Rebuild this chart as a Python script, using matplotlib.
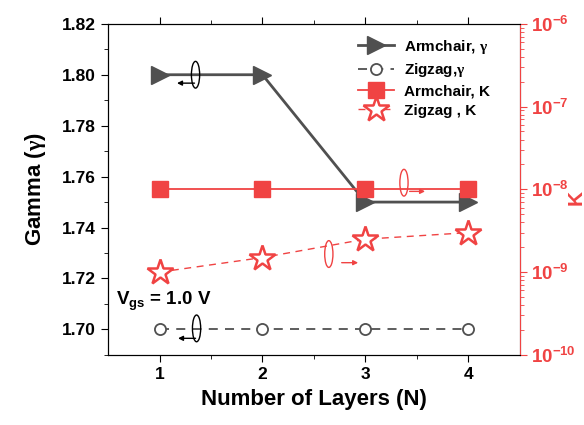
import numpy as np
import matplotlib
matplotlib.use('Agg')
import matplotlib.pyplot as plt
from matplotlib.patches import Ellipse
from matplotlib.ticker import FixedLocator, LogLocator, NullFormatter

plt.rcParams['font.family'] = ['Liberation Sans', 'DejaVu Sans']
plt.rcParams['font.weight'] = 'bold'
plt.rcParams['mathtext.fontset'] = 'custom'
plt.rcParams['mathtext.rm'] = 'Liberation Serif'
plt.rcParams['mathtext.it'] = 'Liberation Serif'
plt.rcParams['mathtext.bf'] = 'Liberation Sans:bold'

# 层数与两种边缘结构的 gamma / K
layers = [1, 2, 3, 4]
gamma_armchair = [1.80, 1.80, 1.75, 1.75]
gamma_zigzag = [1.70, 1.70, 1.70, 1.70]
k_armchair = [1e-8, 1e-8, 1e-8, 1e-8]
k_zigzag = [1.0e-9, 1.5e-9, 2.5e-9, 3.0e-9]

gray = '#505050'
red = '#f04343'

fig = plt.figure(figsize=(5.84, 4.25), dpi=100)
ax = fig.add_axes([0.185, 0.165, 0.705, 0.779])
ax2 = ax.twinx()

l1, = ax.plot(layers, gamma_armchair, color=gray, lw=2, marker='>', ms=13,
              label=r'Armchair, $\gamma$')
l2, = ax.plot(layers, gamma_zigzag, color=gray, lw=1.3, ls=(0, (5, 4)), marker='o',
              ms=8, mfc='white', mec=gray, mew=1.3, label=r'Zigzag,$\gamma$')
l3, = ax2.plot(layers, k_armchair, color=red, lw=1.3, marker='s', ms=12,
               label='Armchair, K')
l4, = ax2.plot(layers, k_zigzag, color=red, lw=1.0, ls=(0, (5, 4)), marker='*',
               ms=19, mfc='white', mec=red, mew=1.8, label='Zigzag , K')

ax.set_xlim(0.5, 4.5)
ax.set_ylim(1.69, 1.82)
ax2.set_yscale('log')
ax2.set_ylim(1e-10, 1e-6)

ax.xaxis.set_major_locator(FixedLocator([1, 2, 3, 4]))
ax.xaxis.set_minor_locator(FixedLocator([1.5, 2.5, 3.5]))
ax.set_yticks(np.arange(1.70, 1.821, 0.02))
ax.yaxis.set_minor_locator(FixedLocator(np.arange(1.69, 1.821, 0.01)))
ax.tick_params(axis='both', which='both', labelsize=12.5, direction='out')
ax.tick_params(axis='x', which='both', top=True)
ax.tick_params(which='major', length=5)
ax.tick_params(which='minor', length=3)
ax.set_xticklabels(['1', '2', '3', '4'], fontweight='bold')
ax.set_yticklabels(['%.2f' % v for v in np.arange(1.70, 1.821, 0.02)], fontweight='bold')

ax2.yaxis.set_minor_locator(LogLocator(base=10, subs=np.arange(2, 10), numticks=20))
ax2.yaxis.set_minor_formatter(NullFormatter())
ax2.set_yticks([1e-10, 1e-9, 1e-8, 1e-7, 1e-6])
ax2.set_yticklabels([r'$\mathbf{10^{%d}}$' % e for e in [-10, -9, -8, -7, -6]])
ax2.tick_params(axis='y', which='both', colors=red, labelsize=13.5, direction='out', pad=3)
ax2.tick_params(axis='y', which='major', length=5)
ax2.tick_params(axis='y', which='minor', length=3)
ax2.spines['right'].set_color(red)

ax.set_xlabel('Number of Layers (N)', fontsize=16, fontweight='bold', labelpad=5)
ax.set_ylabel(r'Gamma ($\gamma$)', fontsize=16, fontweight='bold', labelpad=10)
ax2.set_ylabel('K', fontsize=15, fontweight='bold', color=red, rotation=90)
ax2.yaxis.set_label_coords(1.113, 0.475)

ax.text(0.575, 1.7095, r'$\mathbf{V_{gs}}$ = 1.0 V', fontsize=13.5, fontweight='bold')

# 椭圆 + 箭头，标示曲线对应的坐标轴
ew, eh = 0.08, 0.0105
marks = [((1.35, 1.800), 'black', (1.34, 1.7967), (1.17, 1.7967)),
         ((3.375, 1.7576), red, (3.43, 1.7542), (3.58, 1.7542)),
         ((2.645, 1.7296), red, (2.77, 1.7262), (2.93, 1.7262)),
         ((1.36, 1.7004), 'black', (1.35, 1.6965), (1.18, 1.6965))]
for (cx, cy), c, p0, p1 in marks:
    ax.add_patch(Ellipse((cx, cy), ew, eh, fill=False, ec=c, lw=1, zorder=5))
    ax.annotate('', xy=p1, xytext=p0,
                arrowprops=dict(arrowstyle='-|>', color=c, lw=1,
                                mutation_scale=7, shrinkA=0, shrinkB=0))

ax.legend(handles=[l1, l2, l3, l4], loc='upper right', frameon=False,
          bbox_to_anchor=(0.96, 1.0), handlelength=2.35, handletextpad=0.6,
          prop={'weight': 'bold', 'size': 11}, labelspacing=0.35)

fig.savefig('out.png', dpi=100)
